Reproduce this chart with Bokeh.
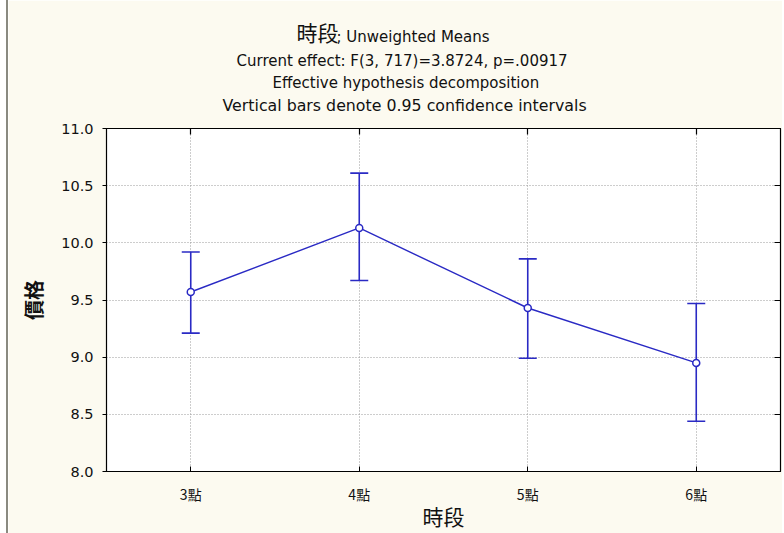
from bokeh.plotting import figure
from bokeh.models import (ColumnDataSource, Whisker, TeeHead, FixedTicker, LinearAxis,
                          Title, Range1d)
from bokeh.embed import file_html
from bokeh.resources import INLINE

# ---- data ----
categories = ["3點", "4點", "5點", "6點"]
means = [9.57, 10.13, 9.43, 8.95]
lower = [9.21, 9.67, 8.99, 8.44]
upper = [9.92, 10.61, 9.86, 9.47]
y_ticks = [8.0, 8.5, 9.0, 9.5, 10.0, 10.5, 11.0]
title_main = "時段"
title_sub = "; Unweighted Means"
subtitles = ["Current effect: F(3, 717)=3.8724, p=.00917",
             "Effective hypothesis decomposition",
             "Vertical bars denote 0.95 confidence intervals"]
x_title = "時段"
y_title = "價格"

BLUE = "#2a2ac4"
CREAM = "#fcfaf0"
FONT = "DejaVu Sans"
CJK = "Noto Sans CJK TC"

xs = list(range(len(categories)))
src = ColumnDataSource(dict(x=xs, m=means, lo=lower, hi=upper))

p = figure(width=776, height=533, output_backend="svg", toolbar_location=None,
           x_range=Range1d(-0.5, 3.5), y_range=Range1d(8.0, 11.0),
           min_border_left=98, min_border_right=4, min_border_top=128,
           min_border_bottom=62)
p.border_fill_color = CREAM
p.background_fill_color = "white"
p.outline_line_color = "black"
p.outline_line_width = 1.2
p.styles = {"border-left": "2px solid #8a8a80", "margin-left": "6px"}

# axes
xa = p.xaxis[0]
xa.ticker = FixedTicker(ticks=xs)
xa.major_label_overrides = {i: c for i, c in enumerate(categories)}
xa.major_tick_in = 5
xa.major_tick_out = 0
xa.minor_tick_line_color = None
xa.axis_line_color = "black"
xa.major_label_text_font = CJK
xa.major_label_text_font_size = "14px"
xa.major_label_text_color = "#111111"
xa.major_label_standoff = 12
xa.axis_label = x_title
xa.axis_label_text_font = CJK
xa.axis_label_text_font_size = "21px"
xa.axis_label_text_font_style = "normal"
xa.axis_label_text_color = "#111111"
xa.axis_label_standoff = -6

ya = p.yaxis[0]
ya.ticker = FixedTicker(ticks=y_ticks)
ya.major_label_overrides = {t: f"{t:.1f}" for t in y_ticks}
ya.major_tick_in = 0
ya.major_tick_out = 4
ya.minor_tick_line_color = None
ya.axis_line_color = "black"
ya.major_label_text_font = FONT
ya.major_label_text_font_size = "14.5px"
ya.major_label_text_color = "#111111"
ya.major_label_standoff = 9
ya.axis_label = y_title
ya.axis_label_text_font = CJK
ya.axis_label_text_font_size = "20px"
ya.axis_label_text_font_style = "bold"
ya.axis_label_text_color = "#111111"
ya.axis_label_standoff = 10

ra = LinearAxis(ticker=FixedTicker(ticks=y_ticks), major_tick_in=6, major_tick_out=0,
                minor_tick_line_color=None, axis_line_color="black", major_label_standoff=0,
                major_tick_line_color="black", major_tick_line_width=1.2,
                major_label_overrides={t: "" for t in y_ticks})
ta = LinearAxis(ticker=FixedTicker(ticks=xs), major_tick_in=6, major_label_standoff=0,
                major_tick_out=0, minor_tick_line_color=None, axis_line_color="black",
                major_tick_line_color="black", major_tick_line_width=1.2,
                major_label_overrides={i: "" for i in xs})
p.add_layout(ra, "right")
p.add_layout(ta, "above")

# grid
for g in (p.xgrid[0], p.ygrid[0]):
    g.grid_line_color = "#9a9a9a"
    g.grid_line_dash = "1 2"
    g.grid_line_width = 1
p.xgrid[0].ticker = FixedTicker(ticks=xs)
p.ygrid[0].ticker = FixedTicker(ticks=y_ticks)

# error bars
w = Whisker(source=src, base="x", lower="lo", upper="hi", line_color=BLUE, line_width=1.6,
            lower_head=TeeHead(size=18, line_color=BLUE, line_width=1.6),
            upper_head=TeeHead(size=18, line_color=BLUE, line_width=1.6))
p.add_layout(w)

p.line("x", "m", source=src, line_color=BLUE, line_width=1.4)
p.scatter("x", "m", source=src, size=7, fill_color="white", line_color=BLUE, line_width=1.5)

# titles (first added = closest to the frame)
for txt, off, so, fs in zip(reversed(subtitles), [116, 166, 130], [27, -22, 22],
                            ["15.8px", "15px", "15px"]):
    p.add_layout(Title(text=txt, align="left", offset=off, standoff=so,
                       text_font=FONT, text_font_size=fs, text_font_style="normal",
                       text_color="#111111"), "above")
p.add_layout(Title(text=title_sub, align="left", offset=230, standoff=-14,
                   text_font=FONT, text_font_size="15px", text_font_style="normal",
                   text_color="#111111"), "above")
p.add_layout(Title(text=title_main, align="left", offset=190, standoff=-29,
                   text_font=CJK, text_font_size="21px", text_font_style="normal",
                   text_color="#111111"), "above")

open("out.html", "w").write(file_html(p, INLINE))
